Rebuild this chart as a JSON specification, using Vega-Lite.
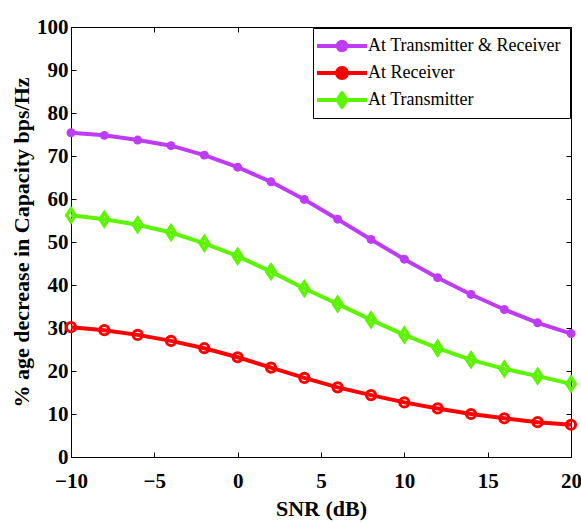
{
  "$schema": "https://vega.github.io/schema/vega-lite/v6.json",
  "width": 500,
  "height": 430,
  "autosize": {"type": "none"},
  "padding": {"left": 71, "top": 27, "right": 10, "bottom": 65},
  "background": "white",
  "config": {
    "view": {"stroke": "black", "strokeWidth": 1},
    "axis": {
      "labelFont": "Liberation Serif", "titleFont": "Liberation Serif",
      "labelFontSize": 21, "labelFontWeight": "bold", "labelColor": "black",
      "titleFontSize": 22, "titleFontWeight": "bold", "titleColor": "black",
      "domainColor": "black", "tickColor": "black", "grid": false, "tickSize": -5, "labelFlush": false
    },
    "legend": {
      "orient": "top-right", "offset": 1, "strokeColor": "black", "fillColor": "white", "padding": 9,
      "labelFont": "Liberation Serif", "labelFontSize": 18, "labelColor": "black", "labelLimit": 400,
      "symbolSize": 100, "symbolStrokeWidth": 4, "rowPadding": 9, "symbolOffset": 11, "labelOffset": 17
    }
  },
  "data": {"values": [
    {"snr": -10, "series": "At Transmitter & Receiver", "value": 75.4},
    {"snr": -8, "series": "At Transmitter & Receiver", "value": 74.8},
    {"snr": -6, "series": "At Transmitter & Receiver", "value": 73.7},
    {"snr": -4, "series": "At Transmitter & Receiver", "value": 72.4},
    {"snr": -2, "series": "At Transmitter & Receiver", "value": 70.2},
    {"snr": 0, "series": "At Transmitter & Receiver", "value": 67.4},
    {"snr": 2, "series": "At Transmitter & Receiver", "value": 64.0},
    {"snr": 4, "series": "At Transmitter & Receiver", "value": 59.9},
    {"snr": 6, "series": "At Transmitter & Receiver", "value": 55.3},
    {"snr": 8, "series": "At Transmitter & Receiver", "value": 50.6},
    {"snr": 10, "series": "At Transmitter & Receiver", "value": 46.0},
    {"snr": 12, "series": "At Transmitter & Receiver", "value": 41.7},
    {"snr": 14, "series": "At Transmitter & Receiver", "value": 37.8},
    {"snr": 16, "series": "At Transmitter & Receiver", "value": 34.3},
    {"snr": 18, "series": "At Transmitter & Receiver", "value": 31.2},
    {"snr": 20, "series": "At Transmitter & Receiver", "value": 28.7},
    {"snr": -10, "series": "At Receiver", "value": 30.2},
    {"snr": -8, "series": "At Receiver", "value": 29.5},
    {"snr": -6, "series": "At Receiver", "value": 28.4},
    {"snr": -4, "series": "At Receiver", "value": 27.0},
    {"snr": -2, "series": "At Receiver", "value": 25.3},
    {"snr": 0, "series": "At Receiver", "value": 23.2},
    {"snr": 2, "series": "At Receiver", "value": 20.8},
    {"snr": 4, "series": "At Receiver", "value": 18.4},
    {"snr": 6, "series": "At Receiver", "value": 16.2},
    {"snr": 8, "series": "At Receiver", "value": 14.4},
    {"snr": 10, "series": "At Receiver", "value": 12.7},
    {"snr": 12, "series": "At Receiver", "value": 11.3},
    {"snr": 14, "series": "At Receiver", "value": 10.0},
    {"snr": 16, "series": "At Receiver", "value": 9.0},
    {"snr": 18, "series": "At Receiver", "value": 8.1},
    {"snr": 20, "series": "At Receiver", "value": 7.5},
    {"snr": -10, "series": "At Transmitter", "value": 56.2},
    {"snr": -8, "series": "At Transmitter", "value": 55.3},
    {"snr": -6, "series": "At Transmitter", "value": 54.0},
    {"snr": -4, "series": "At Transmitter", "value": 52.2},
    {"snr": -2, "series": "At Transmitter", "value": 49.7},
    {"snr": 0, "series": "At Transmitter", "value": 46.7},
    {"snr": 2, "series": "At Transmitter", "value": 43.1},
    {"snr": 4, "series": "At Transmitter", "value": 39.2},
    {"snr": 6, "series": "At Transmitter", "value": 35.6},
    {"snr": 8, "series": "At Transmitter", "value": 31.9},
    {"snr": 10, "series": "At Transmitter", "value": 28.4},
    {"snr": 12, "series": "At Transmitter", "value": 25.3},
    {"snr": 14, "series": "At Transmitter", "value": 22.6},
    {"snr": 16, "series": "At Transmitter", "value": 20.5},
    {"snr": 18, "series": "At Transmitter", "value": 18.8},
    {"snr": 20, "series": "At Transmitter", "value": 17.0}
  ]},
  "resolve": {"axis": {"x": "independent", "y": "independent"}},
  "layer": [
    {
      "mark": {"type": "line", "strokeWidth": 4},
      "encoding": {
        "x": {"field": "snr", "type": "quantitative", "scale": {"domain": [-10, 20], "nice": false},
              "axis": {"orient": "bottom", "values": [-10, -5, 0, 5, 10, 15, 20], "title": "SNR (dB)", "labelPadding": 18, "titlePadding": 7}},
        "y": {"field": "value", "type": "quantitative", "scale": {"domain": [0, 100], "nice": false},
              "axis": {"orient": "left", "values": [0, 10, 20, 30, 40, 50, 60, 70, 80, 90, 100], "title": "% age decrease in Capacity bps/Hz", "labelPadding": 8, "titlePadding": 3}},
        "color": {"field": "series", "type": "nominal",
                  "scale": {"domain": ["At Transmitter & Receiver", "At Receiver", "At Transmitter"], "range": ["#BE3CF8", "#FF0000", "#5CF400"]},
                  "legend": {"title": null,
                    "encode": {"symbols": {"update": {
                      "shape": {"signal": "datum.value == 'At Transmitter & Receiver' ? 'M-5,0L5,0M-0.85,0A0.85,0.85 0 1,1 0.85,0A0.85,0.85 0 1,1 -0.85,0Z' : datum.value == 'At Receiver' ? 'M-5,0L5,0M-1,0A1,1 0 1,1 1,0A1,1 0 1,1 -1,0Z' : 'M-5,0L5,0M0,-1.4L0.9,0L0,1.4L-0.9,0Z'"},
                      "fill": {"signal": "datum.value == 'At Transmitter & Receiver' ? '#BE3CF8' : 'transparent'"},
                      "strokeWidth": {"value": 4},
                      "strokeJoin": {"value": "round"},
                      "opacity": {"value": 1}
                    }}}}},
        "detail": {"field": "series"}
      }
    },
    {
      "transform": [{"filter": "datum.series == 'At Transmitter & Receiver'"}],
      "mark": {"type": "point", "shape": "circle", "filled": true, "size": 80, "opacity": 1},
      "encoding": {
        "x": {"field": "snr", "type": "quantitative", "axis": null},
        "y": {"field": "value", "type": "quantitative", "axis": null},
        "color": {"field": "series", "type": "nominal"}
      }
    },
    {
      "transform": [{"filter": "datum.series == 'At Receiver'"}],
      "mark": {"type": "point", "shape": "circle", "filled": false, "size": 85, "strokeWidth": 3, "opacity": 1},
      "encoding": {
        "x": {"field": "snr", "type": "quantitative", "axis": null},
        "y": {"field": "value", "type": "quantitative", "axis": null},
        "color": {"field": "series", "type": "nominal"}
      }
    },
    {
      "transform": [{"filter": "datum.series == 'At Transmitter'"}],
      "mark": {"type": "point", "shape": "M0,-1.3L0.85,0L0,1.3L-0.85,0Z", "filled": false, "size": 100, "strokeWidth": 3.5, "opacity": 1},
      "encoding": {
        "x": {"field": "snr", "type": "quantitative", "axis": null},
        "y": {"field": "value", "type": "quantitative", "axis": null},
        "color": {"field": "series", "type": "nominal"}
      }
    },
    {
      "mark": {"type": "line", "opacity": 0},
      "encoding": {
        "x": {"field": "snr", "type": "quantitative",
              "axis": {"orient": "top", "values": [-10, -5, 0, 5, 10, 15, 20], "labels": false, "title": null, "domain": false}},
        "y": {"field": "value", "type": "quantitative",
              "axis": {"orient": "right", "values": [0, 10, 20, 30, 40, 50, 60, 70, 80, 90, 100], "labels": false, "title": null, "domain": false}},
        "detail": {"field": "series"}
      }
    }
  ]
}
